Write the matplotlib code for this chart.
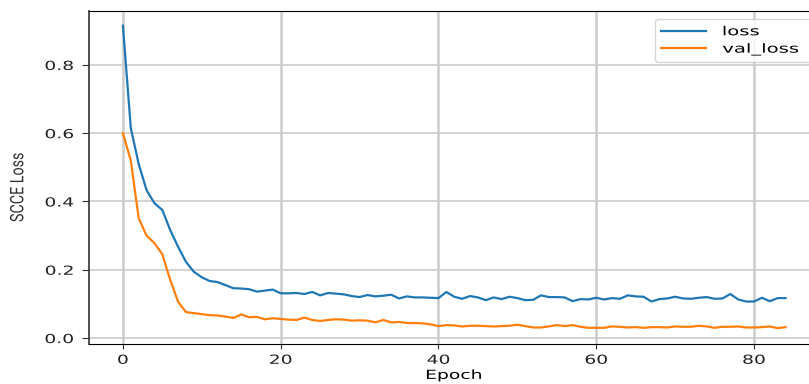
import matplotlib
matplotlib.use("Agg")
import matplotlib.pyplot as plt
import numpy as np
from matplotlib.patheffects import AbstractPathEffect
from matplotlib.transforms import Affine2D

# training history (85 epochs)
epochs = np.arange(85)
loss = [0.915, 0.615, 0.51, 0.433, 0.395, 0.375, 0.316, 0.267, 0.223, 0.194,
        0.178, 0.167, 0.164, 0.155, 0.146, 0.145, 0.143, 0.136, 0.139, 0.142,
        0.131, 0.131, 0.132, 0.129, 0.135, 0.125, 0.132, 0.130, 0.128, 0.123,
        0.120, 0.126, 0.122, 0.124, 0.127, 0.116, 0.122, 0.119, 0.119, 0.118,
        0.117, 0.135, 0.121, 0.115, 0.123, 0.119, 0.111, 0.119, 0.114, 0.121,
        0.117, 0.111, 0.112, 0.125, 0.120, 0.120, 0.119, 0.108, 0.114, 0.113,
        0.118, 0.113, 0.117, 0.115, 0.125, 0.122, 0.121, 0.107, 0.114, 0.116,
        0.121, 0.116, 0.115, 0.118, 0.120, 0.115, 0.116, 0.129, 0.113, 0.107,
        0.107, 0.118, 0.108, 0.117, 0.117]
val_loss = [0.600, 0.52, 0.351, 0.300, 0.278, 0.245, 0.170, 0.106, 0.076, 0.073,
            0.070, 0.067, 0.066, 0.063, 0.059, 0.069, 0.061, 0.062, 0.055, 0.058,
            0.056, 0.054, 0.053, 0.060, 0.053, 0.050, 0.053, 0.055, 0.054, 0.051,
            0.052, 0.051, 0.046, 0.053, 0.046, 0.047, 0.044, 0.044, 0.043, 0.040,
            0.035, 0.038, 0.037, 0.034, 0.036, 0.036, 0.035, 0.034, 0.035, 0.036,
            0.039, 0.035, 0.031, 0.031, 0.034, 0.038, 0.035, 0.038, 0.033, 0.030,
            0.030, 0.030, 0.034, 0.033, 0.031, 0.032, 0.030, 0.032, 0.032, 0.031,
            0.034, 0.033, 0.033, 0.036, 0.034, 0.030, 0.033, 0.033, 0.034, 0.031,
            0.031, 0.032, 0.034, 0.029, 0.032]


class StretchX(AbstractPathEffect):
    """the original screenshot is squashed sideways, so widen text the same way"""

    def __init__(self, sx=1.5, anchor="center"):
        super().__init__()
        self.sx = sx
        self.anchor = anchor

    def draw_path(self, renderer, gc, tpath, affine, rgbFace=None):
        ext = tpath.get_extents(affine)
        cx = {"left": ext.x0, "right": ext.x1, "center": 0.5 * (ext.x0 + ext.x1)}[self.anchor]
        tr = affine + Affine2D().translate(-cx, 0).scale(self.sx, 1).translate(cx, 0)
        renderer.draw_path(gc, tpath, tr, rgbFace)


fig = plt.figure(figsize=(8.09, 3.84), dpi=100)
# right edge of the axes sits just outside the image, like the cropped original
ax = fig.add_axes([0.110, 0.104, 0.902, 0.867])

ax.plot(epochs, loss, color="#1f77b4", lw=1.6, label="loss")
ax.plot(epochs, val_loss, color="#ff7f0e", lw=1.6, label="val_loss")

ax.set_xlim(-4.3, 88.2)
ax.set_ylim(-0.0176, 0.9575)
ax.set_xticks([0, 20, 40, 60, 80])
ax.set_yticks([0.0, 0.2, 0.4, 0.6, 0.8])
ax.tick_params(labelsize=9, colors="#333333", labelcolor="#222222")
ax.tick_params(axis="x", length=3.5, pad=3.5)
ax.tick_params(axis="y", length=5.4, pad=5.5)
ax.xaxis.grid(True, color="#cccccc", lw=1.8)
ax.yaxis.grid(True, color="#cccccc", lw=1.2)
ax.spines["left"].set_linewidth(1.2)
ax.spines["left"].set_color("#333333")

for t in ax.xaxis.get_major_ticks():
    t.label1.set_path_effects([StretchX(1.5, "center")])
for t in ax.yaxis.get_major_ticks():
    t.label1.set_path_effects([StretchX(1.5, "right")])

xl = ax.set_xlabel("Epoch", fontsize=9, labelpad=1.5)
xl.set_path_effects([StretchX(1.5, "center")])
yl = ax.set_ylabel("SCCE Loss", fontsize=10.3, family="Roboto", color="#333333")
yl.set_path_effects([StretchX(1.3, "center")])
ax.yaxis.set_label_coords(-0.088, 0.47)

# legend box runs past the right edge of the picture, as in the crop
leg = ax.legend(loc="upper left", bbox_to_anchor=(655 / 809, 1 - 19 / 384, 0.22, 0),
                bbox_transform=fig.transFigure, borderaxespad=0, mode="expand",
                fontsize=9, handlelength=3.6, handletextpad=1.3,
                labelspacing=0.35, borderpad=0.5, framealpha=0.8)
for t in leg.get_texts():
    t.set_path_effects([StretchX(1.57, "left")])

fig.savefig("out.png", dpi=100)
